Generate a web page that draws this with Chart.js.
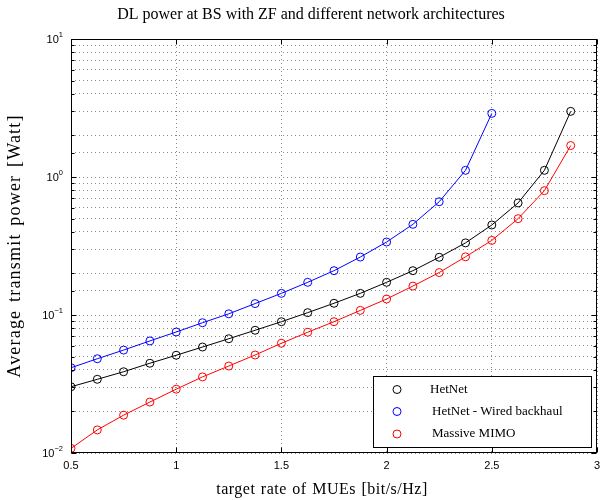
<!DOCTYPE html>
<html><head><meta charset="utf-8">
<script src="https://cdn.jsdelivr.net/npm/chart.js@4/dist/chart.umd.min.js"></script>
<style>html,body{margin:0;padding:0;background:#fff}canvas{display:block}</style>
</head><body>
<canvas id="c" width="616" height="500"></canvas>
<script>
const titleText = 'DL power at BS with ZF and different network architectures';
const xLabel = 'target rate of MUEs [bit/s/Hz]';
const yLabel = 'Average transmit power [Watt]';
const seriesNames = ['HetNet', 'HetNet - Wired backhaul', 'Massive MIMO'];
const seriesColors = ['#000000', '#0000ff', '#ff0000'];
const rates = [0.5,0.625,0.75,0.875,1,1.125,1.25,1.375,1.5,1.625,1.75,1.875,2,2.125,2.25,2.375,2.5,2.625,2.75,2.875];
const hetnet = [0.0302,0.0342,0.0388,0.0447,0.0511,0.0586,0.0673,0.0775,0.0894,0.104,0.1216,0.1435,0.1725,0.2095,0.262,0.333,0.449,0.649,1.118,2.99];
const wired = [0.0415,0.0482,0.0557,0.0649,0.0753,0.0879,0.102,0.121,0.1435,0.1725,0.2095,0.263,0.338,0.454,0.662,1.118,2.89];
const mimo = [0.0108,0.0147,0.0188,0.0234,0.0290,0.0356,0.0427,0.0513,0.0624,0.075,0.0894,0.108,0.1306,0.162,0.203,0.264,0.347,0.499,0.796,1.69];
const xTicks = [0.5,1,1.5,2,2.5,3];
const xTickLabels = ['0.5','1','1.5','2','2.5','3'];
const yDecades = [0.01,0.1,1,10];
const yExponents = ['\u22122','\u22121','0','1'];

const serif = '"Liberation Serif", "Times New Roman", serif';
const sans = '"Liberation Sans", Arial, sans-serif';

function mk(vals){ return vals.map((v,i)=>({x:rates[i], y:v})); }
const seriesData = [hetnet, wired, mimo];

const decor = {
  id:'decor',
  afterDraw(chart){
    const ctx = chart.ctx, a = chart.chartArea;
    const xs = chart.scales.x, ys = chart.scales.y;
    ctx.save();
    ctx.strokeStyle = '#000'; ctx.lineWidth = 1;
    const L = Math.round(a.left)+0.5, R = Math.round(a.right)-0.5, T = Math.round(a.top)+0.5, B = Math.round(a.bottom)-0.5;
    ctx.strokeRect(L, T, R-L, B-T);
    ctx.beginPath();
    xTicks.forEach(v=>{
      const px = Math.round(xs.getPixelForValue(v))+0.5;
      ctx.moveTo(px, B); ctx.lineTo(px, B-5);
      ctx.moveTo(px, T); ctx.lineTo(px, T+5);
    });
    ys.ticks.forEach(t=>{
      const py = Math.round(ys.getPixelForValue(t.value))+0.5;
      const major = yDecades.some(d=>Math.abs(d-t.value)/d < 1e-6);
      const len = major ? 5 : 3;
      ctx.moveTo(L, py); ctx.lineTo(L+len, py);
      ctx.moveTo(R, py); ctx.lineTo(R-len, py);
    });
    ctx.stroke();
    ctx.fillStyle = '#000';
    yDecades.forEach((d,i)=>{
      const py = ys.getPixelForValue(d);
      ctx.font = '7.5px ' + sans;
      ctx.textAlign = 'left'; ctx.textBaseline = 'alphabetic';
      const ew = ctx.measureText(yExponents[i]).width;
      const right = 63;
      ctx.fillText(yExponents[i], right - ew, py - 2);
      ctx.font = '11px ' + sans;
      ctx.textAlign = 'right'; ctx.textBaseline = 'middle';
      ctx.fillText('10', right - ew, py + 1);
    });
    ctx.textAlign = 'center'; ctx.textBaseline = 'alphabetic';
    ctx.font = '16px ' + serif;
    ctx.fillText(titleText, 311, 19);
    ctx.font = '16px ' + serif;
    ctx.letterSpacing = '0.5px';
    ctx.wordSpacing = '1px';
    ctx.fillText(xLabel, 322, 494);
    ctx.font = '18px ' + serif;
    ctx.letterSpacing = '1.2px';
    ctx.wordSpacing = '2px';
    ctx.save();
    ctx.translate(20, (a.top + a.bottom)/2);
    ctx.rotate(-Math.PI/2);
    ctx.fillText(yLabel, 0, 0);
    ctx.restore();
    ctx.letterSpacing = '0px';
    ctx.wordSpacing = '0px';
    const bx = 373, by = 376, bw = 218, bh = 71;
    ctx.fillStyle = '#fff';
    ctx.fillRect(bx, by, bw, bh);
    ctx.strokeStyle = '#000'; ctx.lineWidth = 1;
    ctx.strokeRect(bx+0.5, by+0.5, bw, bh);
    const rows = [389.5, 411.5, 434];
    const textX = [430, 432, 432];
    ctx.font = '13px ' + serif;
    ctx.textAlign = 'left'; ctx.textBaseline = 'middle';
    chart.data.datasets.forEach((ds,i)=>{
      ctx.beginPath();
      ctx.strokeStyle = ds.borderColor;
      ctx.arc(397, rows[i], 4, 0, Math.PI*2);
      ctx.stroke();
      ctx.fillStyle = '#000';
      ctx.fillText(ds.label, textX[i], rows[i]);
    });
    ctx.restore();
  }
};

const gridCommon = {color:'#8a8a8a', lineWidth:1, drawTicks:false};
const borderCommon = {display:false, dash:[1,3]};

new Chart(document.getElementById('c'), {
  type:'scatter',
  data:{
    datasets: seriesData.map((vals,i)=>({
      label: seriesNames[i],
      data: mk(vals),
      showLine:true,
      borderColor: seriesColors[i],
      borderWidth:1,
      pointRadius:4,
      pointBorderWidth:1,
      pointBorderColor: seriesColors[i],
      pointBackgroundColor:'rgba(0,0,0,0)',
      tension:0
    }))
  },
  options:{
    responsive:false, animation:false, devicePixelRatio:1,
    layout:{padding:{top:39, right:19, left:0, bottom:0}},
    plugins:{legend:{display:false}, title:{display:false}, tooltip:{enabled:false}},
    scales:{
      x:{
        type:'linear', min:0.5, max:3,
        afterBuildTicks: s => { s.ticks = xTicks.map(v=>({value:v})); },
        ticks:{font:{family:sans, size:11}, color:'#000', padding:6, autoSkip:false, maxRotation:0,
               callback:(v)=>{ const i = xTicks.indexOf(v); return i>=0 ? xTickLabels[i] : ''; }},
        grid: gridCommon, border: borderCommon,
        afterFit: s => { s.height = 47; }
      },
      y:{
        type:'logarithmic', min:0.01, max:10,
        ticks:{display:false},
        grid: gridCommon, border: borderCommon,
        afterFit: s => { s.width = 71; }
      }
    }
  },
  plugins:[decor]
});
</script>
</body></html>
